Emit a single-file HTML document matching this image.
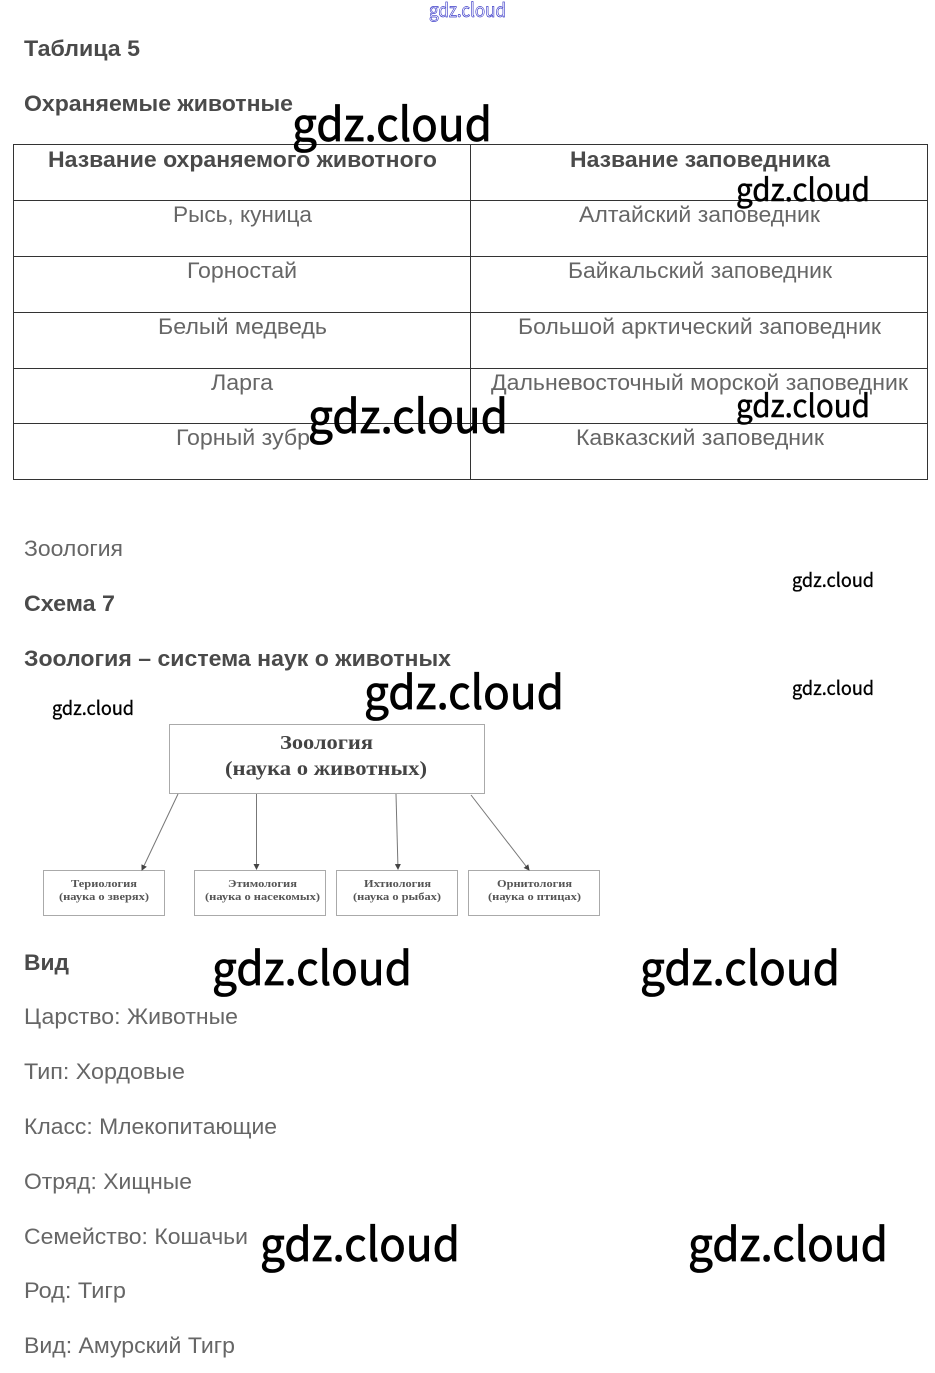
<!DOCTYPE html>
<html><head><meta charset="utf-8"><style>
html,body{margin:0;padding:0;background:#fff;width:935px;height:1373px;overflow:hidden}
svg{display:block}
text{font-family:"Liberation Sans",sans-serif;white-space:pre}
.b{font-weight:bold;font-size:22px;fill:#4a4a4a}
.r{font-size:22px;fill:#666}
.w{font-family:"Noto Sans CJK SC","Liberation Sans",sans-serif;fill:#000;stroke:#000}
.wl{font-size:46px;stroke-width:.8}
.wm{font-size:31px;stroke-width:.55}
.ws{font-size:19px;stroke-width:.35}
.s{font-family:"Liberation Serif",serif;font-weight:bold;fill:#444}
.t{fill:#555}
</style></head><body>
<svg width="935" height="1373" viewBox="0 0 935 1373" xmlns="http://www.w3.org/2000/svg">
<defs><marker id="a" markerWidth="6" markerHeight="6" refX="5" refY="3" orient="auto" markerUnits="userSpaceOnUse"><path d="M0,0L6,3L0,6z" fill="#444"/></marker></defs>
<text x="429" y="17" font-size="19" fill="#fff" stroke="#3a3ac8" stroke-width=".7" textLength="77" lengthAdjust="spacingAndGlyphs" style='font-family:"Noto Sans CJK SC",sans-serif'>gdz.cloud</text>

<text class="b" x="24" y="56" textLength="116" lengthAdjust="spacingAndGlyphs">Таблица 5</text>
<text class="b" x="24" y="111" textLength="269" lengthAdjust="spacingAndGlyphs">Охраняемые животные</text>

<g stroke="#333" stroke-width="1" fill="none" shape-rendering="crispEdges">
<rect x="13.5" y="144.5" width="914" height="335"/>
<path d="M470.5 144.500V479.500M13.500 200.500H927.500M13.500 256.500H927.500M13.500 312.500H927.500M13.500 368.500H927.500M13.500 423.500H927.500"/>
</g>
<text class="b" x="48" y="167" textLength="389" lengthAdjust="spacingAndGlyphs">Название охраняемого животного</text>
<text class="b" x="570" y="167" textLength="260" lengthAdjust="spacingAndGlyphs">Название заповедника</text>
<text class="r" x="173" y="222" textLength="139" lengthAdjust="spacingAndGlyphs">Рысь, куница</text>
<text class="r" x="579" y="222" textLength="241" lengthAdjust="spacingAndGlyphs">Алтайский заповедник</text>
<text class="r" x="187" y="278" textLength="110" lengthAdjust="spacingAndGlyphs">Горностай</text>
<text class="r" x="568" y="278" textLength="264" lengthAdjust="spacingAndGlyphs">Байкальский заповедник</text>
<text class="r" x="158" y="334" textLength="169" lengthAdjust="spacingAndGlyphs">Белый медведь</text>
<text class="r" x="518" y="334" textLength="363" lengthAdjust="spacingAndGlyphs">Большой арктический заповедник</text>
<text class="r" x="211" y="390" textLength="62" lengthAdjust="spacingAndGlyphs">Ларга</text>
<text class="r" x="491" y="390" textLength="417" lengthAdjust="spacingAndGlyphs">Дальневосточный морской заповедник</text>
<text class="r" x="176" y="445" textLength="134" lengthAdjust="spacingAndGlyphs">Горный зубр</text>
<text class="r" x="576" y="445" textLength="248" lengthAdjust="spacingAndGlyphs">Кавказский заповедник</text>

<text class="r" x="24" y="556" textLength="99" lengthAdjust="spacingAndGlyphs">Зоология</text>
<text class="b" x="24" y="611" textLength="91" lengthAdjust="spacingAndGlyphs">Схема 7</text>
<text class="b" x="24" y="666" textLength="427" lengthAdjust="spacingAndGlyphs">Зоология – система наук о животных</text>

<g stroke="#aaa" fill="#fff" stroke-width="1" shape-rendering="crispEdges">
<rect x="169.500" y="724.500" width="315" height="69"/>
<rect x="43.500" y="870.500" width="121" height="45"/>
<rect x="194.500" y="870.500" width="131" height="45"/>
<rect x="336.500" y="870.500" width="121" height="45"/>
<rect x="468.500" y="870.500" width="131" height="45"/>
</g>
<g stroke="#777" stroke-width="1" fill="none">
<line x1="178" y1="794" x2="142" y2="870" marker-end="url(#a)"/>
<line x1="256.500" y1="794" x2="256.500" y2="869" marker-end="url(#a)"/>
<line x1="396" y1="794" x2="398" y2="869" marker-end="url(#a)"/>
<line x1="471" y1="795" x2="529" y2="870" marker-end="url(#a)"/>
</g>
<text class="s" x="280" y="749" font-size="20" textLength="93" lengthAdjust="spacingAndGlyphs">Зоология</text>
<text class="s" x="225" y="775" font-size="20" textLength="202" lengthAdjust="spacingAndGlyphs">(наука о животных)</text>
<text class="s t" x="71" y="887" font-size="11" textLength="66" lengthAdjust="spacingAndGlyphs">Териология</text>
<text class="s t" x="59" y="900" font-size="11" textLength="90" lengthAdjust="spacingAndGlyphs">(наука о зверях)</text>
<text class="s t" x="228" y="887" font-size="11" textLength="69" lengthAdjust="spacingAndGlyphs">Этимология</text>
<text class="s t" x="205" y="900" font-size="11" textLength="115" lengthAdjust="spacingAndGlyphs">(наука о насекомых)</text>
<text class="s t" x="364" y="887" font-size="11" textLength="67" lengthAdjust="spacingAndGlyphs">Ихтиология</text>
<text class="s t" x="353" y="900" font-size="11" textLength="88" lengthAdjust="spacingAndGlyphs">(наука о рыбах)</text>
<text class="s t" x="497" y="887" font-size="11" textLength="75" lengthAdjust="spacingAndGlyphs">Орнитология</text>
<text class="s t" x="488" y="900" font-size="11" textLength="93" lengthAdjust="spacingAndGlyphs">(наука о птицах)</text>

<text class="b" x="24" y="970" textLength="45" lengthAdjust="spacingAndGlyphs">Вид</text>
<text class="r" x="24" y="1024" textLength="214" lengthAdjust="spacingAndGlyphs">Царство: Животные</text>
<text class="r" x="24" y="1079" textLength="161" lengthAdjust="spacingAndGlyphs">Тип: Хордовые</text>
<text class="r" x="24" y="1134" textLength="253" lengthAdjust="spacingAndGlyphs">Класс: Млекопитающие</text>
<text class="r" x="24" y="1189" textLength="168" lengthAdjust="spacingAndGlyphs">Отряд: Хищные</text>
<text class="r" x="24" y="1244" textLength="224" lengthAdjust="spacingAndGlyphs">Семейство: Кошачьи</text>
<text class="r" x="24" y="1298" textLength="102" lengthAdjust="spacingAndGlyphs">Род: Тигр</text>
<text class="r" x="24" y="1353" textLength="211" lengthAdjust="spacingAndGlyphs">Вид: Амурский Тигр</text>

<text class="w wl" x="292" y="141" textLength="200" lengthAdjust="spacingAndGlyphs">gdz.cloud</text>
<text class="w wm" x="736" y="201" textLength="134" lengthAdjust="spacingAndGlyphs">gdz.cloud</text>
<text class="w wl" x="308" y="433" textLength="200" lengthAdjust="spacingAndGlyphs">gdz.cloud</text>
<text class="w wm" x="736" y="417" textLength="134" lengthAdjust="spacingAndGlyphs">gdz.cloud</text>
<text class="w ws" x="792" y="587" textLength="82" lengthAdjust="spacingAndGlyphs">gdz.cloud</text>
<text class="w ws" x="792" y="695" textLength="82" lengthAdjust="spacingAndGlyphs">gdz.cloud</text>
<text class="w ws" x="52" y="715" textLength="82" lengthAdjust="spacingAndGlyphs">gdz.cloud</text>
<text class="w wl" x="364" y="709" textLength="200" lengthAdjust="spacingAndGlyphs">gdz.cloud</text>
<text class="w wl" x="212" y="985" textLength="200" lengthAdjust="spacingAndGlyphs">gdz.cloud</text>
<text class="w wl" x="640" y="985" textLength="200" lengthAdjust="spacingAndGlyphs">gdz.cloud</text>
<text class="w wl" x="260" y="1261" textLength="200" lengthAdjust="spacingAndGlyphs">gdz.cloud</text>
<text class="w wl" x="688" y="1261" textLength="200" lengthAdjust="spacingAndGlyphs">gdz.cloud</text>
</svg>
</body></html>
